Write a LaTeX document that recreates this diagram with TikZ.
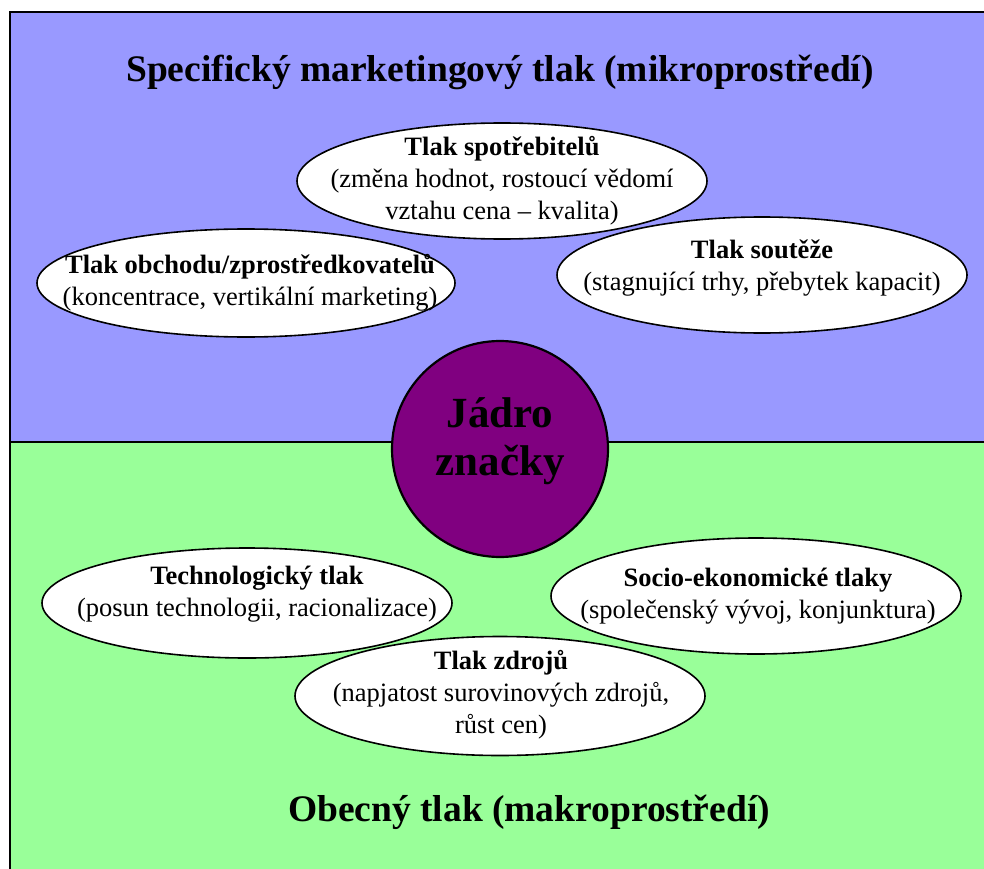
\documentclass[tikz,border=0pt]{standalone}
\usepackage{fontspec}
\setmainfont{Liberation Serif}
\usepackage{tikz}
\usetikzlibrary{positioning}
\usetikzlibrary{shapes}
\definecolor{micro}{HTML}{9999FF}
\definecolor{macro}{HTML}{99FF99}
\definecolor{jadro}{HTML}{800080}

\begin{document}
\begin{tikzpicture}[
      x=1pt, y=-1pt,
      frame/.style={line width=2pt},
      heading/.style={inner sep=0pt, font=\fontsize{37.5}{44}\selectfont\bfseries},
      pressure/.style={ellipse, draw=black, line width=1.6pt, fill=white, inner sep=0pt,
        minimum width=410pt, minimum height=116pt},
      ptext/.style={align=center, inner sep=0pt, font=\fontsize{26.5}{32}\selectfont},
      core/.style={circle, draw=black, line width=2.2pt, fill=jadro, minimum size=216pt, inner sep=0pt},
      coretext/.style={align=center, inner sep=0pt, font=\fontsize{43}{48}\selectfont\bfseries}
    ]
    \useasboundingbox (0,0) rectangle (984,869);
    % background: micro (top) and macro (bottom)
    \fill[micro] (10,12) rectangle (990,442);
    \fill[macro] (10,442) rectangle (990,875);
    \draw[frame] (10,875) -- (10,12) -- (990,12);
    \draw[frame] (10,442) -- (990,442);

    \node(mikro)[heading] at (500,72) {Specifický marketingový tlak (mikroprostředí)};
    \node(makro)[heading] at (529,812) {Obecný tlak (makroprostředí)};

    % microenvironment
    \node(obch)[pressure, minimum width=418pt, minimum height=108pt] at (246,283) {};
    \node(obcht)[ptext] at (250,283) {\textbf{Tlak obchodu/zprostředkovatelů}\\(koncentrace, vertikální marketing)};
    \node(sout)[pressure] at (762,275) {};
    \node(soutt)[ptext] at (762,268) {\textbf{Tlak soutěže}\\(stagnující trhy, přebytek kapacit)};
    \node(spot)[pressure] at (502,181) {};
    \node(spott)[ptext] at (502,181) {\textbf{Tlak spotřebitelů}\\(změna hodnot, rostoucí vědomí\\vztahu cena – kvalita)};

    % core
    \node(j)[core] at (500,449) {};
    \node(jt)[coretext] at (500,441) {Jádro\\značky};

    % macroenvironment
    \node(tech)[pressure, minimum height=110pt] at (247,603) {};
    \node(techt)[ptext] at (257,594) {\textbf{Technologický tlak}\\(posun technologii, racionalizace)};
    \node(soc)[pressure] at (756,596) {};
    \node(soct)[ptext] at (758,596) {\textbf{Socio-ekonomické tlaky}\\(společenský vývoj, konjunktura)};
    \node(zdr)[pressure, minimum height=119pt] at (500,696) {};
    \node(zdrt)[ptext] at (501,695) {\textbf{Tlak zdrojů}\\(napjatost surovinových zdrojů,\\růst cen)};
\end{tikzpicture}
\end{document}
